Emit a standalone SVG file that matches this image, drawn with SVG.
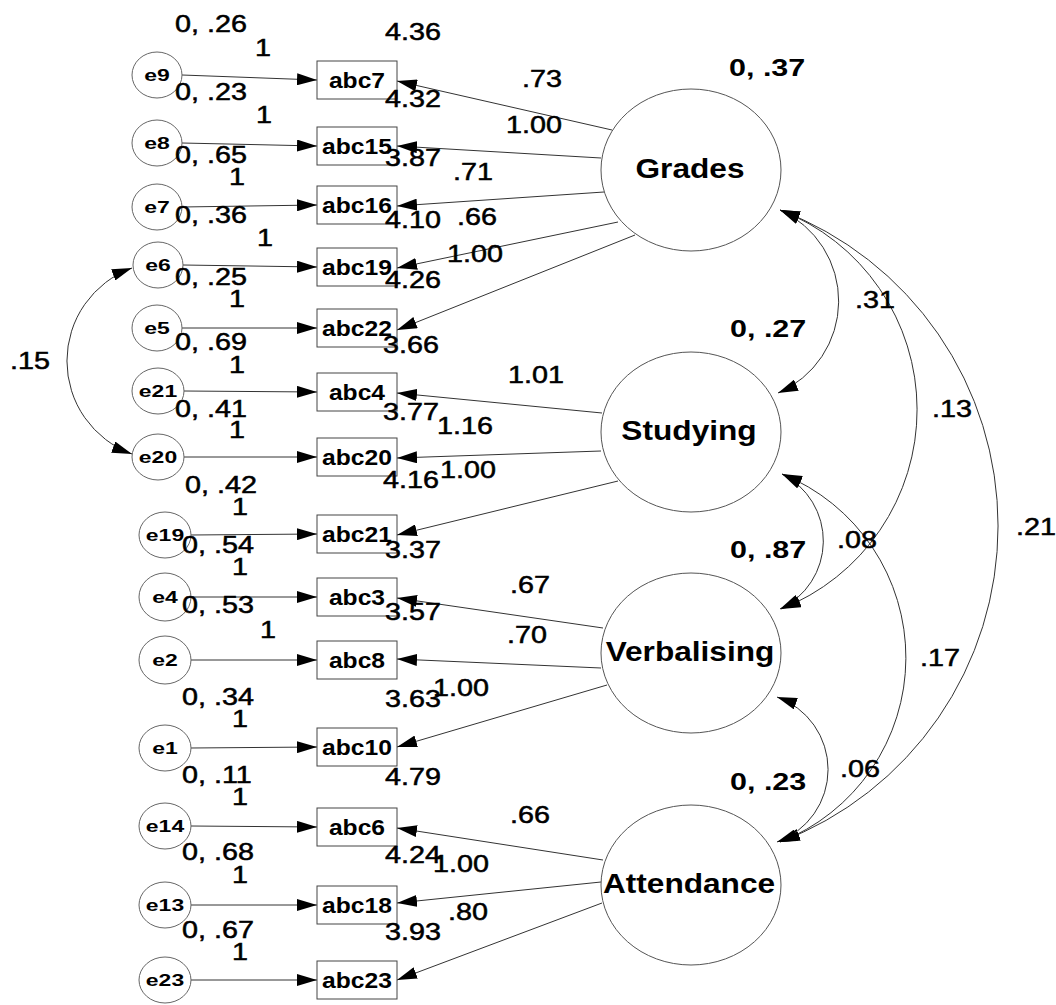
<svg xmlns="http://www.w3.org/2000/svg" width="1056" height="1005" viewBox="0 0 1056 1005">
<style>
.bg{fill:#fff}
.lat{fill:#fff;stroke:#555;stroke-width:1}
.obs{fill:#fff;stroke:#444;stroke-width:1}
.err{fill:#fff;stroke:#666;stroke-width:1}
.c{fill:none;stroke:#333;stroke-width:1}
.a{marker-end:url(#ah)}
.b{marker-start:url(#ah);marker-end:url(#ah)}
text{font-family:"Liberation Sans",Arial,sans-serif;fill:#000}
.n{font-size:23px;stroke:#000;stroke-width:0.5}
.v{font-size:24px;font-weight:bold}
.on{font-size:22px;font-weight:bold;text-anchor:middle}
.en{font-size:17px;font-weight:bold;text-anchor:middle}
.ln{font-size:28px;font-weight:bold;text-anchor:middle}
.m{text-anchor:middle}
</style>
<defs>
<marker id="ah" viewBox="0 0 20 12" refX="20" refY="6" markerWidth="20" markerHeight="12" markerUnits="userSpaceOnUse" orient="auto-start-reverse"><path d="M0,0 L20,6 L0,12 z" fill="#000"/></marker>
</defs>
<rect class="bg" x="0" y="0" width="1056" height="1005"/>

<g id="connectors">
<line class="c a" x1="182" y1="75" x2="317" y2="80"/>
<line class="c a" x1="182" y1="143" x2="317" y2="146"/>
<line class="c a" x1="182" y1="207" x2="317" y2="205"/>
<line class="c a" x1="183" y1="265" x2="317" y2="267"/>
<line class="c a" x1="182" y1="328" x2="317" y2="328"/>
<line class="c a" x1="184" y1="391" x2="317" y2="392"/>
<line class="c a" x1="184" y1="457" x2="317" y2="457"/>
<line class="c a" x1="191" y1="535" x2="317" y2="534"/>
<line class="c a" x1="191" y1="597" x2="317" y2="597"/>
<line class="c a" x1="191" y1="660" x2="317" y2="660"/>
<line class="c a" x1="191" y1="748" x2="317" y2="747"/>
<line class="c a" x1="191" y1="826" x2="317" y2="827"/>
<line class="c a" x1="191" y1="905" x2="317" y2="905"/>
<line class="c a" x1="191" y1="980" x2="317" y2="980"/>
<line class="c a" x1="612" y1="130" x2="397" y2="81"/>
<line class="c a" x1="601" y1="158" x2="397" y2="146"/>
<line class="c a" x1="604" y1="192" x2="397" y2="206"/>
<line class="c a" x1="618" y1="222" x2="397" y2="268"/>
<line class="c a" x1="635" y1="235" x2="397" y2="330"/>
<line class="c a" x1="602" y1="413" x2="397" y2="393"/>
<line class="c a" x1="601" y1="451" x2="397" y2="458"/>
<line class="c a" x1="618" y1="481" x2="397" y2="535"/>
<line class="c a" x1="603" y1="628" x2="397" y2="598"/>
<line class="c a" x1="601" y1="668" x2="397" y2="659"/>
<line class="c a" x1="607" y1="685" x2="397" y2="747"/>
<line class="c a" x1="603" y1="860" x2="397" y2="828"/>
<line class="c a" x1="601" y1="882" x2="397" y2="903"/>
<line class="c a" x1="602" y1="903" x2="397" y2="980"/>
<path class="c b" d="M132,268 A99,99 0 0 0 132,454"/>
<path class="c b" d="M780,210 A100,100 0 0 1 778,393"/>
<path class="c b" d="M780,210 A214,214 0 0 1 781,609"/>
<path class="c b" d="M780,210 A338,338 0 0 1 780,842"/>
<path class="c b" d="M782,474 A75,75 0 0 1 780,609"/>
<path class="c b" d="M782,474 A198,198 0 0 1 780,842"/>
<path class="c b" d="M777,697 A77,77 0 0 1 777,842"/>
<text class="n m" transform="translate(263,56) scale(1.25,1)">1</text>
<text class="n m" transform="translate(264,123) scale(1.25,1)">1</text>
<text class="n m" transform="translate(237,185) scale(1.25,1)">1</text>
<text class="n m" transform="translate(265,246) scale(1.25,1)">1</text>
<text class="n m" transform="translate(237,307) scale(1.25,1)">1</text>
<text class="n m" transform="translate(237,373) scale(1.25,1)">1</text>
<text class="n m" transform="translate(237,438) scale(1.25,1)">1</text>
<text class="n m" transform="translate(240,515) scale(1.25,1)">1</text>
<text class="n m" transform="translate(240,575) scale(1.25,1)">1</text>
<text class="n m" transform="translate(268,638) scale(1.25,1)">1</text>
<text class="n m" transform="translate(240,727) scale(1.25,1)">1</text>
<text class="n m" transform="translate(240,805) scale(1.25,1)">1</text>
<text class="n m" transform="translate(240,883) scale(1.25,1)">1</text>
<text class="n m" transform="translate(240,960) scale(1.25,1)">1</text>
<text class="n" transform="translate(522,87) scale(1.25,1)">.73</text>
<text class="n" transform="translate(506,133) scale(1.25,1)">1.00</text>
<text class="n" transform="translate(453,180) scale(1.25,1)">.71</text>
<text class="n" transform="translate(457,225) scale(1.25,1)">.66</text>
<text class="n" transform="translate(447,262) scale(1.25,1)">1.00</text>
<text class="n" transform="translate(508,383) scale(1.25,1)">1.01</text>
<text class="n" transform="translate(437,434) scale(1.25,1)">1.16</text>
<text class="n" transform="translate(440,478) scale(1.25,1)">1.00</text>
<text class="n" transform="translate(510,593) scale(1.25,1)">.67</text>
<text class="n" transform="translate(507,643) scale(1.25,1)">.70</text>
<text class="n" transform="translate(433,696) scale(1.25,1)">1.00</text>
<text class="n" transform="translate(510,823) scale(1.25,1)">.66</text>
<text class="n" transform="translate(433,872) scale(1.25,1)">1.00</text>
<text class="n" transform="translate(448,920) scale(1.25,1)">.80</text>
<text class="n" transform="translate(10,369) scale(1.25,1)">.15</text>
<text class="n" transform="translate(855,308) scale(1.25,1)">.31</text>
<text class="n" transform="translate(932,417) scale(1.25,1)">.13</text>
<text class="n" transform="translate(1016,535) scale(1.25,1)">.21</text>
<text class="n" transform="translate(837,548) scale(1.25,1)">.08</text>
<text class="n" transform="translate(920,666) scale(1.25,1)">.17</text>
<text class="n" transform="translate(840,777) scale(1.25,1)">.06</text>
</g>

<g id="Grades">
<ellipse class="lat" cx="691" cy="170" rx="90" ry="81"/>
<text class="ln" transform="translate(690,178) scale(1.13,1)">Grades</text>
<text class="v" transform="translate(729,76) scale(1.27,1)">0, .37</text>
</g>
<g id="Studying">
<ellipse class="lat" cx="691" cy="432" rx="90" ry="80"/>
<text class="ln" transform="translate(689,440) scale(1.13,1)">Studying</text>
<text class="v" transform="translate(730,337) scale(1.27,1)">0, .27</text>
</g>
<g id="Verbalising">
<ellipse class="lat" cx="691" cy="653" rx="90" ry="80"/>
<text class="ln" transform="translate(690,661) scale(1.13,1)">Verbalising</text>
<text class="v" transform="translate(730,558) scale(1.27,1)">0, .87</text>
</g>
<g id="Attendance">
<ellipse class="lat" cx="691" cy="885" rx="90" ry="80"/>
<text class="ln" transform="translate(689,893) scale(1.13,1)">Attendance</text>
<text class="v" transform="translate(730,790) scale(1.27,1)">0, .23</text>
</g>

<g id="abc7"><rect class="obs" x="317" y="61" width="80" height="38"/><text class="on" transform="translate(357,88) scale(1.12,1)">abc7</text><text class="n" transform="translate(385,40) scale(1.25,1)">4.36</text></g>
<g id="abc15"><rect class="obs" x="317" y="127" width="80" height="38"/><text class="on" transform="translate(357,154) scale(1.12,1)">abc15</text><text class="n" transform="translate(385,107) scale(1.25,1)">4.32</text></g>
<g id="abc16"><rect class="obs" x="317" y="186" width="80" height="38"/><text class="on" transform="translate(357,213) scale(1.12,1)">abc16</text><text class="n" transform="translate(385,166) scale(1.25,1)">3.87</text></g>
<g id="abc19"><rect class="obs" x="317" y="248" width="80" height="38"/><text class="on" transform="translate(357,275) scale(1.12,1)">abc19</text><text class="n" transform="translate(385,228) scale(1.25,1)">4.10</text></g>
<g id="abc22"><rect class="obs" x="317" y="309" width="80" height="38"/><text class="on" transform="translate(357,336) scale(1.12,1)">abc22</text><text class="n" transform="translate(385,288) scale(1.25,1)">4.26</text></g>
<g id="abc4"><rect class="obs" x="317" y="373" width="80" height="38"/><text class="on" transform="translate(357,400) scale(1.12,1)">abc4</text><text class="n" transform="translate(383,353) scale(1.25,1)">3.66</text></g>
<g id="abc20"><rect class="obs" x="317" y="438" width="80" height="38"/><text class="on" transform="translate(357,465) scale(1.12,1)">abc20</text><text class="n" transform="translate(383,420) scale(1.25,1)">3.77</text></g>
<g id="abc21"><rect class="obs" x="317" y="515" width="80" height="38"/><text class="on" transform="translate(357,542) scale(1.12,1)">abc21</text><text class="n" transform="translate(383,488) scale(1.25,1)">4.16</text></g>
<g id="abc3"><rect class="obs" x="317" y="578" width="80" height="38"/><text class="on" transform="translate(357,605) scale(1.12,1)">abc3</text><text class="n" transform="translate(385,558) scale(1.25,1)">3.37</text></g>
<g id="abc8"><rect class="obs" x="317" y="641" width="80" height="38"/><text class="on" transform="translate(357,668) scale(1.12,1)">abc8</text><text class="n" transform="translate(385,620) scale(1.25,1)">3.57</text></g>
<g id="abc10"><rect class="obs" x="317" y="728" width="80" height="38"/><text class="on" transform="translate(357,755) scale(1.12,1)">abc10</text><text class="n" transform="translate(385,707) scale(1.25,1)">3.63</text></g>
<g id="abc6"><rect class="obs" x="317" y="808" width="80" height="38"/><text class="on" transform="translate(357,835) scale(1.12,1)">abc6</text><text class="n" transform="translate(385,785) scale(1.25,1)">4.79</text></g>
<g id="abc18"><rect class="obs" x="317" y="886" width="80" height="38"/><text class="on" transform="translate(357,913) scale(1.12,1)">abc18</text><text class="n" transform="translate(385,863) scale(1.25,1)">4.24</text></g>
<g id="abc23"><rect class="obs" x="317" y="961" width="80" height="38"/><text class="on" transform="translate(357,988) scale(1.12,1)">abc23</text><text class="n" transform="translate(385,940) scale(1.25,1)">3.93</text></g>

<g id="e9"><ellipse class="err" cx="157" cy="75" rx="25" ry="23"/><text class="en" transform="translate(157,81) scale(1.35,1)">e9</text><text class="n" transform="translate(175,32) scale(1.25,1)">0, .26</text></g>
<g id="e8"><ellipse class="err" cx="157" cy="143" rx="25" ry="23"/><text class="en" transform="translate(157,149) scale(1.35,1)">e8</text><text class="n" transform="translate(175,100) scale(1.25,1)">0, .23</text></g>
<g id="e7"><ellipse class="err" cx="157" cy="207" rx="25" ry="23"/><text class="en" transform="translate(157,213) scale(1.35,1)">e7</text><text class="n" transform="translate(175,163) scale(1.25,1)">0, .65</text></g>
<g id="e6"><ellipse class="err" cx="158" cy="265" rx="25" ry="23"/><text class="en" transform="translate(158,271) scale(1.35,1)">e6</text><text class="n" transform="translate(175,223) scale(1.25,1)">0, .36</text></g>
<g id="e5"><ellipse class="err" cx="157" cy="328" rx="25" ry="23"/><text class="en" transform="translate(157,334) scale(1.35,1)">e5</text><text class="n" transform="translate(175,285) scale(1.25,1)">0, .25</text></g>
<g id="e21"><ellipse class="err" cx="158" cy="391" rx="26" ry="23"/><text class="en" transform="translate(158,397) scale(1.35,1)">e21</text><text class="n" transform="translate(175,350) scale(1.25,1)">0, .69</text></g>
<g id="e20"><ellipse class="err" cx="158" cy="457" rx="26" ry="23"/><text class="en" transform="translate(158,463) scale(1.35,1)">e20</text><text class="n" transform="translate(175,417) scale(1.25,1)">0, .41</text></g>
<g id="e19"><ellipse class="err" cx="165" cy="535" rx="26" ry="23"/><text class="en" transform="translate(165,541) scale(1.35,1)">e19</text><text class="n" transform="translate(185,493) scale(1.25,1)">0, .42</text></g>
<g id="e4"><ellipse class="err" cx="165" cy="597" rx="26" ry="24"/><text class="en" transform="translate(165,603) scale(1.35,1)">e4</text><text class="n" transform="translate(182,553) scale(1.25,1)">0, .54</text></g>
<g id="e2"><ellipse class="err" cx="165" cy="660" rx="26" ry="24"/><text class="en" transform="translate(165,666) scale(1.35,1)">e2</text><text class="n" transform="translate(182,613) scale(1.25,1)">0, .53</text></g>
<g id="e1"><ellipse class="err" cx="165" cy="748" rx="26" ry="23"/><text class="en" transform="translate(165,754) scale(1.35,1)">e1</text><text class="n" transform="translate(182,705) scale(1.25,1)">0, .34</text></g>
<g id="e14"><ellipse class="err" cx="165" cy="826" rx="26" ry="23"/><text class="en" transform="translate(165,832) scale(1.35,1)">e14</text><text class="n" transform="translate(182,783) scale(1.25,1)">0, .11</text></g>
<g id="e13"><ellipse class="err" cx="165" cy="905" rx="26" ry="23"/><text class="en" transform="translate(165,911) scale(1.35,1)">e13</text><text class="n" transform="translate(182,860) scale(1.25,1)">0, .68</text></g>
<g id="e23"><ellipse class="err" cx="165" cy="980" rx="26" ry="23"/><text class="en" transform="translate(165,986) scale(1.35,1)">e23</text><text class="n" transform="translate(182,938) scale(1.25,1)">0, .67</text></g>
</svg>
